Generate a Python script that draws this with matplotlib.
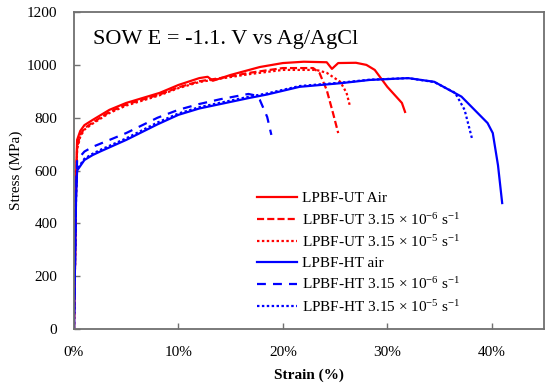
import matplotlib
matplotlib.use('Agg')
import matplotlib.pyplot as plt
from matplotlib.ticker import PercentFormatter, MultipleLocator

plt.rcParams['font.family'] = ['Liberation Serif', 'DejaVu Serif']
plt.rcParams['mathtext.default'] = 'regular'

# strain in %, stress in MPa
ut_air_strain = [0, 0.1, 0.2, 0.3, 0.6, 1.0, 1.8, 3.4, 5.0, 8.2, 10.0, 12.0, 12.8, 13.3, 15.0, 17.8, 20.0, 22.0, 24.2, 24.7, 25.3, 27.0, 28.0, 28.8, 30.0, 31.4, 31.7]
ut_air_stress = [0, 250, 550, 716, 750, 772, 792, 830, 856, 894, 924, 950, 955, 940, 962, 992, 1007, 1012, 1010, 985, 1007, 1008, 1000, 981, 917, 856, 822]

ut_6_strain = [0, 0.1, 0.2, 0.3, 0.6, 1.0, 1.8, 3.4, 5.0, 8.2, 10.0, 12.0, 14.0, 16.8, 20.0, 22.9, 23.5, 24.2, 24.8, 25.3]
ut_6_stress = [0, 250, 540, 690, 735, 760, 782, 822, 850, 888, 915, 938, 950, 970, 988, 988, 970, 905, 818, 742]

ut_5_strain = [0, 0.1, 0.2, 0.3, 0.6, 1.0, 1.8, 3.4, 5.0, 8.2, 10.0, 12.0, 14.0, 16.8, 20.0, 23.2, 24.2, 25.5, 26.1, 26.4]
ut_5_stress = [0, 250, 530, 680, 728, 755, 778, 818, 846, 885, 912, 935, 948, 965, 981, 981, 970, 936, 894, 848]

ht_air_strain = [0, 0.1, 0.2, 0.3, 1.0, 1.8, 2.5, 5.0, 8.0, 10.0, 12.0, 16.8, 18.5, 21.6, 25.6, 28.3, 32.0, 34.5, 37.1, 39.6, 40.1, 40.6, 41.0]
ht_air_stress = [0, 250, 500, 600, 640, 659, 672, 716, 775, 811, 835, 875, 888, 917, 931, 943, 950, 936, 880, 780, 742, 620, 477]

ht_6_strain = [0, 0.1, 0.2, 0.3, 1.0, 1.8, 5.0, 8.0, 10.0, 12.0, 14.0, 16.7, 17.3, 17.8, 18.5, 18.9]
ht_6_stress = [0, 250, 520, 640, 672, 690, 742, 800, 830, 852, 870, 890, 885, 867, 803, 735]

ht_5_strain = [0, 0.1, 0.2, 0.3, 1.0, 1.8, 2.5, 5.0, 8.0, 10.0, 12.0, 16.8, 18.5, 21.6, 25.6, 28.3, 32.0, 34.5, 36.5, 37.4, 38.1]
ht_5_stress = [0, 250, 500, 605, 645, 664, 678, 722, 782, 816, 840, 880, 892, 920, 933, 944, 950, 935, 894, 830, 723]

labels = ['LPBF-UT Air',
          'LPBF-UT 3.15 × 10$^{-6}$ s$^{-1}$',
          'LPBF-UT 3.15 × 10$^{-5}$ s$^{-1}$',
          'LPBF-HT air',
          'LPBF-HT 3.15 × 10$^{-6}$ s$^{-1}$',
          'LPBF-HT 3.15 × 10$^{-5}$ s$^{-1}$']

fig = plt.figure(figsize=(5.5, 3.89), dpi=100)
ax = fig.add_axes([0.1345, 0.154, 0.8545, 0.815])

red = '#ff0000'
blue = '#0000ff'
lw = 1.6
ax.plot([s / 100 for s in ut_air_strain], ut_air_stress, color=red, lw=lw, ls='-', label=labels[0])
ax.plot([s / 100 for s in ut_6_strain], ut_6_stress, color=red, lw=lw, ls=(0, (3.2, 1.4)), label=labels[1])
ax.plot([s / 100 for s in ut_5_strain], ut_5_stress, color=red, lw=lw, ls=(0, (1.1, 1.1)), label=labels[2])
ax.plot([s / 100 for s in ht_air_strain], ht_air_stress, color=blue, lw=lw, ls='-', label=labels[3])
ax.plot([s / 100 for s in ht_6_strain], ht_6_stress, color=blue, lw=lw, ls=(0, (4, 3.2)), label=labels[4])
ax.plot([s / 100 for s in ht_5_strain], ht_5_stress, color=blue, lw=lw, ls=(0, (1.1, 1.1)), label=labels[5])

ax.set_xlim(0, 0.45)
ax.set_ylim(0, 1200)
ax.xaxis.set_major_locator(MultipleLocator(0.1))
ax.yaxis.set_major_locator(MultipleLocator(200))
ax.xaxis.set_major_formatter(PercentFormatter(xmax=1, decimals=0))
ax.tick_params(direction='in', length=4, width=1, color='#707070', labelsize=11, pad=12)
for sp in ax.spines.values():
    sp.set_color('#707070')
    sp.set_linewidth(1.3)

ax.set_xlabel('Strain (%)', fontsize=11, fontweight='bold', labelpad=7)
ax.set_ylabel('Stress (MPa)', fontsize=11, labelpad=3)

ax.text(0.04, 0.915, 'SOW E = -1.1. V vs Ag/AgCl', transform=ax.transAxes,
        fontsize=16, va='center', ha='left')

ax.legend(loc='upper left', bbox_to_anchor=(0.389, 0.434), frameon=False,
          borderpad=0, borderaxespad=0,
          fontsize=11, handlelength=2.65, handletextpad=0.3, labelspacing=0.42)

fig.savefig('out.png', dpi=100)
